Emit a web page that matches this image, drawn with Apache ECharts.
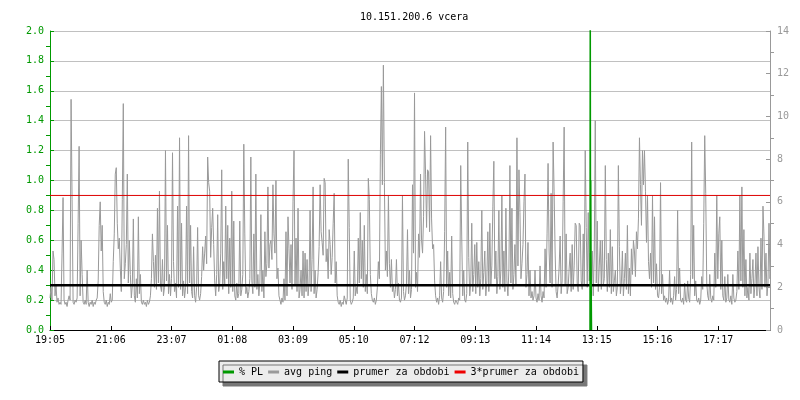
<!DOCTYPE html>
<html>
<head>
<meta charset="utf-8">
<script src="https://cdn.jsdelivr.net/npm/echarts@6/dist/echarts.min.js"></script>
<style>html,body{margin:0;padding:0;background:#fff;}#c{width:800px;height:400px;}</style>
</head>
<body>
<div id="c"></div>
<script>
const titleText = '10.151.200.6 vcera';
const tickLabels = ['19:05','21:06','23:07','01:08','03:09','05:10','07:12','09:13','11:14','13:15','15:16','17:17'];
const tickStepMin = 121;
const sampleStepMin = 2;
const seriesNames = ['% PL', 'avg ping', 'prumer za obdobi', '3*prumer za obdobi'];
// avg ping [ms], one sample every 2 minutes starting 19:05
const pingMs = [
1.5,2.0,1.4,3.7,3.3,1.6,2.1,1.3,1.5,1.2,
1.3,1.2,3.6,6.2,1.4,1.2,1.3,1.1,1.4,1.6,
1.4,10.8,6.1,1.3,1.2,1.4,1.3,1.5,5.0,8.6,
1.6,4.2,2.6,1.3,1.2,1.4,1.2,2.8,1.3,1.1,
1.3,1.2,1.4,1.1,1.3,1.2,1.4,1.5,2.3,4.9,
6.0,3.7,4.9,1.8,1.3,1.2,1.4,1.1,1.3,1.2,
1.7,1.3,1.4,3.2,4.5,7.3,7.6,5.0,3.8,4.3,
2.9,1.8,6.1,10.6,2.4,3.1,4.0,7.3,2.2,4.2,
2.6,1.5,2.1,5.2,1.6,1.3,2.4,1.5,5.3,1.7,
2.6,1.3,1.2,1.4,1.2,1.3,1.1,1.4,1.2,1.3,
1.6,2.4,4.5,3.2,2.0,3.5,1.9,5.7,2.2,6.5,
2.1,1.8,3.3,1.6,2.0,8.4,2.3,4.9,1.7,2.6,
1.6,2.4,8.3,3.2,1.8,2.2,1.5,5.8,2.0,9.0,
1.9,5.0,1.6,2.3,1.5,2.0,5.8,1.7,9.1,2.2,
4.9,1.8,1.5,3.9,1.6,1.3,2.0,4.8,1.6,1.4,
1.7,2.5,3.9,2.8,3.6,4.4,3.1,8.1,6.9,6.5,
3.4,4.8,5.7,4.0,2.3,1.6,2.6,5.4,1.8,2.2,
3.6,7.5,1.9,3.2,2.1,5.8,2.4,4.9,1.7,4.3,
2.0,6.5,1.8,5.1,1.6,1.4,2.2,1.5,1.7,5.1,
1.6,1.9,2.6,8.7,4.5,1.7,2.0,1.5,1.8,2.4,
8.1,2.3,1.7,4.5,2.0,7.3,1.9,2.6,1.6,2.2,
5.4,1.8,2.8,1.5,4.6,2.5,3.1,6.7,2.9,4.0,
4.2,3.3,6.8,4.5,3.6,7.0,2.4,2.9,1.6,1.4,
1.2,1.5,1.3,2.4,1.4,4.6,1.6,5.3,3.8,2.2,
4.0,1.9,6.0,8.4,2.1,4.3,1.8,5.7,1.5,1.9,
2.8,1.6,3.7,1.5,3.6,1.8,3.3,1.6,2.2,5.6,
1.8,3.3,6.7,1.7,2.8,1.5,1.9,2.7,3.9,6.8,
4.6,4.1,3.5,7.1,6.9,3.2,3.8,2.4,4.7,4.0,
2.6,3.4,5.0,6.4,2.2,3.2,1.6,1.3,1.2,1.4,
1.1,1.3,1.2,1.6,1.4,1.2,1.5,8.0,4.8,1.4,
1.2,1.3,1.5,3.7,1.6,2.0,1.7,4.3,2.2,5.5,
2.4,4.2,2.0,4.9,1.8,2.6,1.7,7.1,6.1,2.6,
1.7,1.4,1.3,1.5,1.2,1.4,2.0,3.2,2.4,8.2,
11.4,6.8,12.4,6.9,2.8,3.7,2.5,6.3,3.1,2.0,
3.3,1.8,2.1,1.5,1.9,3.3,1.6,2.2,1.4,1.3,
1.5,6.3,1.8,1.4,1.6,2.2,4.7,1.7,2.8,1.5,
1.9,6.8,3.6,11.1,2.0,2.7,1.8,4.5,3.4,7.3,
4.2,3.6,5.3,9.3,7.3,4.8,7.5,7.4,4.6,9.1,
5.2,3.8,4.0,2.3,1.6,1.3,1.5,1.2,1.6,3.2,
1.5,1.3,1.8,4.6,9.5,2.0,3.7,1.6,2.7,1.5,
4.4,1.7,1.3,1.2,1.4,1.3,1.2,1.5,1.4,7.7,
4.4,1.6,2.8,1.4,1.3,1.7,8.8,3.4,1.6,2.2,
5.0,1.8,2.6,4.0,1.7,4.1,2.0,3.2,1.6,2.4,
5.6,1.9,2.7,3.7,1.6,2.3,4.6,1.8,5.0,2.1,
3.0,5.8,7.9,2.4,3.7,1.7,2.5,5.6,1.9,2.8,
6.3,2.0,3.7,1.8,5.7,2.3,1.6,2.9,7.7,2.2,
5.7,1.9,2.6,4.0,2.1,9.0,3.0,7.5,5.5,2.4,
3.1,4.0,6.0,7.3,2.0,2.6,4.1,1.6,2.8,1.5,
1.8,1.4,1.6,2.8,1.5,1.3,1.7,1.4,3.0,1.6,
1.3,1.8,1.5,3.8,2.0,4.5,7.8,3.7,2.2,6.4,
2.0,8.8,6.5,3.7,1.8,1.5,2.1,2.9,4.4,1.7,
2.3,6.0,9.5,2.1,4.5,1.7,2.0,2.9,3.6,1.8,
4.0,1.9,3.0,5.0,4.9,2.2,1.8,5.0,4.9,2.3,
1.9,4.5,2.1,8.4,4.8,2.0,5.5,2.3,3.6,1.8,
3.7,1.6,3.7,9.8,2.2,5.1,1.8,3.0,4.2,1.9,
4.2,2.1,2.4,7.7,3.3,1.8,3.6,2.0,4.7,1.7,
3.9,1.8,2.3,2.8,1.6,2.0,7.7,3.9,1.7,2.2,
3.7,1.6,2.4,3.6,1.9,4.9,1.7,2.9,1.6,3.8,
2.6,4.2,3.7,2.5,4.6,3.8,5.2,9.0,6.8,4.9,
8.4,6.8,8.4,6.5,4.1,6.3,3.2,2.4,3.6,2.0,
6.3,2.2,5.3,1.9,3.1,1.6,1.5,2.0,6.9,1.7,
2.6,1.4,1.6,1.3,1.5,1.2,1.4,2.8,1.3,1.5,
1.2,1.6,2.5,1.4,1.9,5.6,1.7,2.9,1.4,1.3,
1.5,1.2,2.2,1.4,1.3,2.3,1.5,1.3,2.6,8.8,
2.4,4.9,1.6,2.3,1.4,1.3,1.5,1.2,1.4,2.5,
1.9,5.0,9.1,6.4,2.2,1.6,1.4,2.6,1.5,1.3,
1.6,1.4,3.6,2.0,6.3,2.4,4.5,5.3,1.9,4.2,
1.6,1.4,2.5,1.3,1.5,2.6,1.4,1.3,1.6,1.2,
2.6,1.5,1.3,1.4,1.8,3.7,1.9,6.3,2.3,6.7,
2.0,4.7,1.6,3.3,1.5,2.0,1.4,3.6,1.7,2.4,
3.3,1.5,2.1,3.6,1.6,3.9,2.0,1.5,4.3,1.9,
5.8,4.4,2.0,3.6,1.6,2.2,5.0,2.4,3.3,1.8
];
// packet loss [%]
const plMinutes = [1075.5, 1076, 1076.5, 1077, 1077.5, 1078, 1078.5];
const plValues  = [0, 2.3, 0.55, 1.0, 0.53, 0.22, 0];
const avgPingMs = 2.1;
const avgPing3Ms = 6.3;
const xMaxMin = 1434;

const pingData = pingMs.map((v, i) => [i * sampleStepMin, v]);
const plData = plMinutes.map((m, i) => [m, plValues[i]]);
const mono = 'DejaVu Sans Mono';

const chart = echarts.init(document.getElementById('c'), null, {renderer: 'canvas'});
chart.setOption({
  animation: false,
  backgroundColor: '#ffffff',
  title: {
    text: titleText, left: 355, top: 7,
    textStyle: {fontFamily: mono, fontSize: 10, fontWeight: 'normal', color: '#000'}
  },
  legend: {
    left: 219, top: 361,
    padding: [6, 4, 5, 4],
    itemGap: 5, itemWidth: 11, itemHeight: 3,
    icon: 'rect',
    backgroundColor: '#ececec',
    borderColor: '#000', borderWidth: 1,
    shadowColor: '#777', shadowBlur: 0, shadowOffsetX: 4, shadowOffsetY: 4,
    textStyle: {fontFamily: mono, fontSize: 10, color: '#000'},
    data: seriesNames
  },
  grid: {left: 50, right: 30, top: 31, bottom: 70},
  xAxis: {
    type: 'value', min: 0, max: xMaxMin, interval: tickStepMin,
    axisLine: {lineStyle: {color: '#000', width: 1}},
    axisTick: {inside: true, length: 4, lineStyle: {color: '#000'}},
    axisLabel: {
      fontFamily: mono, fontSize: 10, color: '#000', margin: 5, showMaxLabel: false,
      formatter: v => {
        const k = Math.round(v / tickStepMin);
        return (Math.abs(v - k * tickStepMin) < 0.5 && k < tickLabels.length) ? tickLabels[k] : '';
      }
    },
    splitLine: {show: false}
  },
  yAxis: [{
    type: 'value', min: 0, max: 2, interval: 0.2, position: 'left',
    axisLine: {show: true, lineStyle: {color: '#009900', width: 1}},
    axisTick: {show: true, inside: true, length: 4, lineStyle: {color: '#009900'}},
    minorTick: {show: true, splitNumber: 2, length: -4, lineStyle: {color: '#009900'}},
    axisLabel: {fontFamily: mono, fontSize: 10, color: '#009900', margin: 6, formatter: v => v.toFixed(1)},
    splitLine: {show: true, lineStyle: {color: '#c0c0c0', width: 1}}
  }, {
    type: 'value', min: 0, max: 14, interval: 2, position: 'right',
    axisLine: {show: true, lineStyle: {color: '#999', width: 1}},
    axisTick: {show: true, inside: true, length: 4, lineStyle: {color: '#999'}},
    minorTick: {show: true, splitNumber: 2, length: -4, lineStyle: {color: '#999'}},
    axisLabel: {fontFamily: mono, fontSize: 10, color: '#999', margin: 7},
    splitLine: {show: false}
  }],
  series: [{
    name: seriesNames[1], type: 'line', yAxisIndex: 1, data: pingData,
    showSymbol: false, symbol: 'none', color: '#999999',
    lineStyle: {width: 1, color: '#999999'}, z: 2
  }, {
    name: seriesNames[2], type: 'line', yAxisIndex: 1,
    data: [[0, avgPingMs], [xMaxMin, avgPingMs]],
    showSymbol: false, symbol: 'none', color: '#000',
    lineStyle: {width: 2.5, color: '#000'}, z: 3
  }, {
    name: seriesNames[3], type: 'line', yAxisIndex: 1,
    data: [[0, avgPing3Ms], [xMaxMin, avgPing3Ms]],
    showSymbol: false, symbol: 'none', color: '#ee0000',
    lineStyle: {width: 1, color: '#dd0000'}, z: 3
  }, {
    name: seriesNames[0], type: 'line', yAxisIndex: 0, data: plData,
    showSymbol: false, symbol: 'none', color: '#009900',
    lineStyle: {width: 1.5, color: '#009900'}, z: 4
  }]
});
</script>
</body>
</html>
